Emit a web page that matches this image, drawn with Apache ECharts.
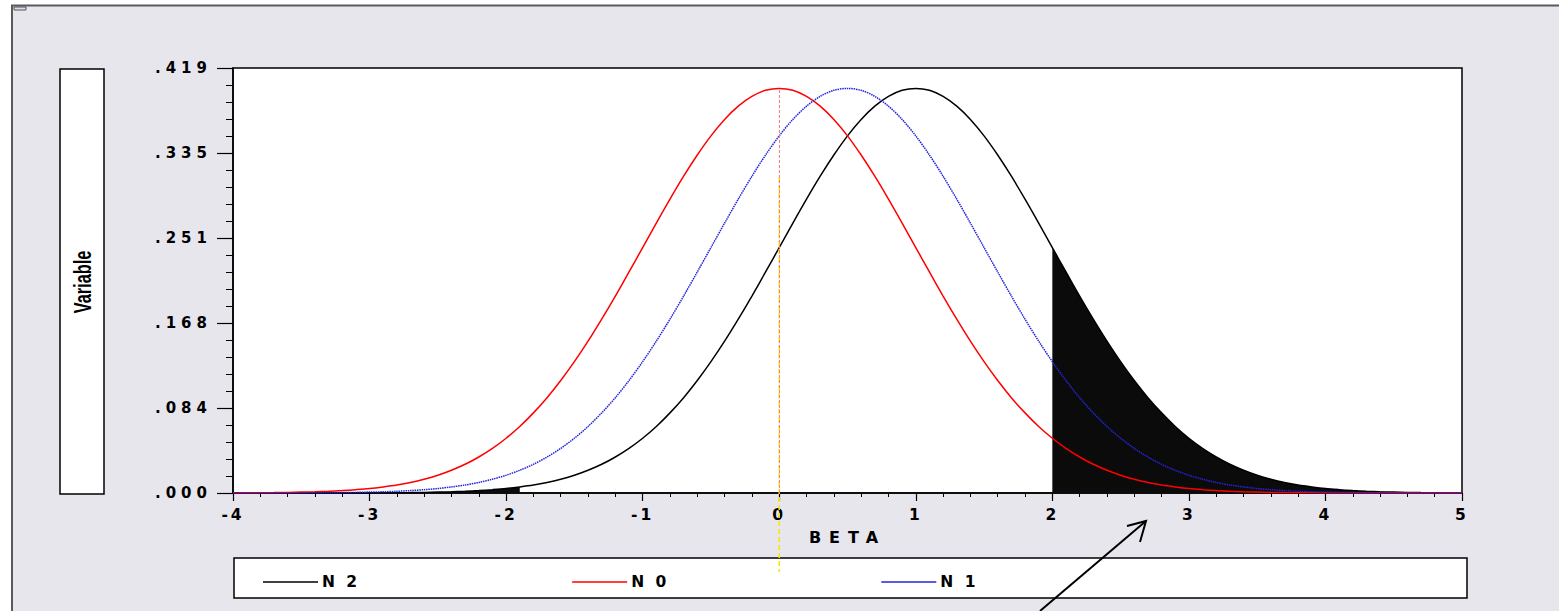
<!DOCTYPE html>
<html>
<head>
<meta charset="utf-8">
<script src="https://cdn.jsdelivr.net/npm/echarts@6/dist/echarts.min.js"></script>
<style>
html, body { margin: 0; padding: 0; background: #fff; }
#chart { width: 1559px; height: 611px; }
/* the original uses a very wide bold face, spread the letters out */
#chart text[style*="DejaVu"] { letter-spacing: 3px; }
#chart text[style*="DejaVu"][style*="15px"] { letter-spacing: 5px; }
#chart text[style*="DejaVu"][style*="16px"] { letter-spacing: 8px; }
</style>
</head>
<body>
<div id="chart"></div>
<script>
// values, step 0.1 on BETA
const beta = [
    -4.0, -3.9, -3.8, -3.7, -3.6, -3.5, -3.4, -3.3, -3.2, -3.1,
    -3.0, -2.9, -2.8, -2.7, -2.6, -2.5, -2.4, -2.3, -2.2, -2.1,
    -2.0, -1.9, -1.8, -1.7, -1.6, -1.5, -1.4, -1.3, -1.2, -1.1,
    -1.0, -0.9, -0.8, -0.7, -0.6, -0.5, -0.4, -0.3, -0.2, -0.1,
    0.0,
    0.1, 0.2, 0.3, 0.4, 0.5, 0.6, 0.7, 0.8, 0.9, 1.0,
    1.1, 1.2, 1.3, 1.4, 1.5, 1.6, 1.7, 1.8, 1.9, 2.0,
    2.1, 2.2, 2.3, 2.4, 2.5, 2.6, 2.7, 2.8, 2.9, 3.0,
    3.1, 3.2, 3.3, 3.4, 3.5, 3.6, 3.7, 3.8, 3.9, 4.0,
    4.1, 4.2, 4.3, 4.4, 4.5, 4.6, 4.7, 4.8, 4.9, 5.0
]
const n0 = [
    .0001, .0002, .0003, .0004, .0006, .0009, .0012, .0017, .0024, .0033,
    .0044, .0060, .0079, .0104, .0136, .0175, .0224, .0283, .0355, .0440,
    .0540, .0656, .0790, .0940, .1109, .1295, .1497, .1714, .1942, .2179,
    .2420, .2661, .2897, .3123, .3332, .3521, .3683, .3814, .3910, .3970,
    .3989,
    .3970, .3910, .3814, .3683, .3521, .3332, .3123, .2897, .2661, .2420,
    .2179, .1942, .1714, .1497, .1295, .1109, .0940, .0790, .0656, .0540,
    .0440, .0355, .0283, .0224, .0175, .0136, .0104, .0079, .0060, .0044,
    .0033, .0024, .0017, .0012, .0009, .0006, .0004, .0003, .0002, .0001,
    .0001, .0001, 0, 0, 0, 0, 0, 0, 0, 0
]
const n1 = [
    0, 0, 0, .0001, .0001, .0001, .0002, .0003, .0004, .0006,
    .0009, .0012, .0017, .0024, .0033, .0044, .0060, .0079, .0104, .0136,
    .0175, .0224, .0283, .0355, .0440, .0540, .0656, .0790, .0940, .1109,
    .1295, .1497, .1714, .1942, .2179, .2420, .2661, .2897, .3123, .3332,
    .3521,
    .3683, .3814, .3910, .3970, .3989, .3970, .3910, .3814, .3683, .3521,
    .3332, .3123, .2897, .2661, .2420, .2179, .1942, .1714, .1497, .1295,
    .1109, .0940, .0790, .0656, .0540, .0440, .0355, .0283, .0224, .0175,
    .0136, .0104, .0079, .0060, .0044, .0033, .0024, .0017, .0012, .0009,
    .0006, .0004, .0003, .0002, .0001, .0001, .0001, 0, 0, 0
]
const n2 = [
    0, 0, 0, 0, 0, 0, 0, 0, .0001, .0001,
    .0001, .0002, .0003, .0004, .0006, .0009, .0012, .0017, .0024, .0033,
    .0044, .0060, .0079, .0104, .0136, .0175, .0224, .0283, .0355, .0440,
    .0540, .0656, .0790, .0940, .1109, .1295, .1497, .1714, .1942, .2179,
    .2420,
    .2661, .2897, .3123, .3332, .3521, .3683, .3814, .3910, .3970, .3989,
    .3970, .3910, .3814, .3683, .3521, .3332, .3123, .2897, .2661, .2420,
    .2179, .1942, .1714, .1497, .1295, .1109, .0940, .0790, .0656, .0540,
    .0440, .0355, .0283, .0224, .0175, .0136, .0104, .0079, .0060, .0044,
    .0033, .0024, .0017, .0012, .0009, .0006, .0004, .0003, .0002, .0001
]
const yTickLabels = ['.000', '.084', '.168', '.251', '.335', '.419']
const yMax = 0.419
const shadeLeftEnd = -1.9
const shadeRightStart = 2
const yellowTop = 0.3116
const yellowBottom = -0.078

const pairs = (ys) => beta.map((x, i) => [x, ys[i]])
const n2Pairs = pairs(n2)
const font = 'DejaVu Sans'

let chart = echarts.init(document.getElementById('chart'), null, {renderer: 'svg'})
chart.setOption({
    animation: false,
    backgroundColor: '#e8e6ed',
    grid: {
        left: 233, right: 97, top: 68, bottom: 118,
        show: true, backgroundColor: '#fff', borderColor: '#000', borderWidth: 1.5
    },
    legend: {
        data: ['N 2', 'N 0', 'N 1'],
        left: 258, top: 569,
        icon: 'rect', itemWidth: 55, itemHeight: 1.3, itemGap: 221,
        textStyle: {fontFamily: font, fontWeight: 'bold', fontSize: 15.5, color: '#000', padding: [0, 0, 0, -1]}
    },
    xAxis: {
        type: 'value', min: -4, max: 5, interval: 1,
        name: 'BETA', nameLocation: 'middle', nameGap: 36,
        nameTextStyle: {fontFamily: font, fontWeight: 'bold', fontSize: 16, color: '#000'},
        axisLine: {onZero: false, lineStyle: {color: '#000', width: 1.5}},
        axisTick: {length: 8, lineStyle: {color: '#000', width: 1.2}},
        minorTick: {show: true, splitNumber: 5, length: 4, lineStyle: {color: '#000', width: 1}},
        axisLabel: {margin: 14, fontFamily: font, fontWeight: 'bold', fontSize: 15.5, color: '#000'},
        splitLine: {show: false}
    },
    yAxis: {
        type: 'value', min: 0, max: yMax, interval: yMax / 5,
        axisLine: {onZero: false, lineStyle: {color: '#000', width: 1.5}},
        axisTick: {length: 16, lineStyle: {color: '#000', width: 1.2}},
        minorTick: {show: true, splitNumber: 5, length: 7, lineStyle: {color: '#000', width: 1}},
        axisLabel: {
            margin: 21, fontFamily: font, fontWeight: 'bold', fontSize: 15, color: '#000',
            formatter: v => yTickLabels[Math.round(v / (yMax / 5))]
        },
        splitLine: {show: false}
    },
    series: [
        {
            name: 'shadeRight', type: 'line', smooth: 0.3, symbol: 'none', silent: true, z: 1,
            data: n2Pairs.filter(p => p[0] >= shadeRightStart),
            lineStyle: {width: 0}, areaStyle: {color: '#0b0b0b', opacity: 1}
        },
        {
            name: 'shadeLeft', type: 'line', smooth: 0.3, symbol: 'none', silent: true, z: 1,
            data: n2Pairs.filter(p => p[0] <= shadeLeftEnd),
            lineStyle: {width: 0}, areaStyle: {color: '#0b0b0b', opacity: 1}
        },
        {
            name: 'N 2', type: 'line', smooth: 0.3, symbol: 'none', z: 3,
            data: n2Pairs,
            itemStyle: {color: '#000'}, lineStyle: {color: '#000', width: 1.5}
        },
        {
            name: 'N 0', type: 'line', smooth: 0.3, symbol: 'none', z: 3,
            data: pairs(n0),
            itemStyle: {color: '#ff0000'}, lineStyle: {color: '#ff0000', width: 1.5},
            markLine: {
                silent: true, symbol: 'none', label: {show: false},
                lineStyle: {color: '#ff7a7a', type: [3, 2], width: 1},
                data: [[{coord: [0, 0]}, {coord: [0, Math.max(...n0)]}]]
            }
        },
        {
            name: 'N 1', type: 'line', smooth: 0.3, symbol: 'none', z: 3,
            data: pairs(n1),
            itemStyle: {color: '#2424d8'}, lineStyle: {color: '#2424d8', width: 1.5, type: [1.5, 0.8]}
        },
        {
            name: 'zeroLine', type: 'line', symbol: 'none', silent: true, clip: false, z: 4,
            data: [[0, yellowTop], [0, yellowBottom]],
            lineStyle: {color: '#f5e600', width: 1.5, type: [5, 3]}
        }
    ],
    graphic: [
        {type: 'rect', shape: {x: 0, y: 0, width: 1559, height: 5}, style: {fill: '#fff'}, silent: true},
        {type: 'rect', shape: {x: 0, y: 0, width: 12, height: 611}, style: {fill: '#fff'}, silent: true},
        {type: 'polyline', shape: {points: [[12, 611], [12, 5.5], [1559, 5.5]]}, style: {stroke: '#5a5a5a', lineWidth: 2, fill: null}, silent: true},
        {type: 'rect', shape: {x: 14, y: 7, width: 12, height: 3}, style: {fill: '#dcdcf0', stroke: '#333', lineWidth: 0.8}, silent: true},
        {type: 'rect', shape: {x: 60, y: 69, width: 44, height: 425}, style: {fill: '#fff', stroke: '#000', lineWidth: 1.5}, silent: true},
        {
            type: 'text', x: 82, y: 282, rotation: Math.PI / 2, scaleX: 0.68, silent: true,
            style: {text: 'Variable', font: 'bold 24px "Liberation Sans"', fill: '#000', align: 'center', verticalAlign: 'middle'}
        },
        {type: 'rect', shape: {x: 234, y: 558, width: 1233, height: 40}, style: {fill: '#fff', stroke: '#000', lineWidth: 1.5}, silent: true, z: -1},
        {type: 'polyline', shape: {points: [[1040, 611], [1146, 521]]}, style: {stroke: '#000', lineWidth: 2, fill: null}, silent: true},
        {type: 'polyline', shape: {points: [[1127, 526], [1146, 521], [1140, 542]]}, style: {stroke: '#000', lineWidth: 2, fill: null}, silent: true}
    ]
})
</script>
</body>
</html>
